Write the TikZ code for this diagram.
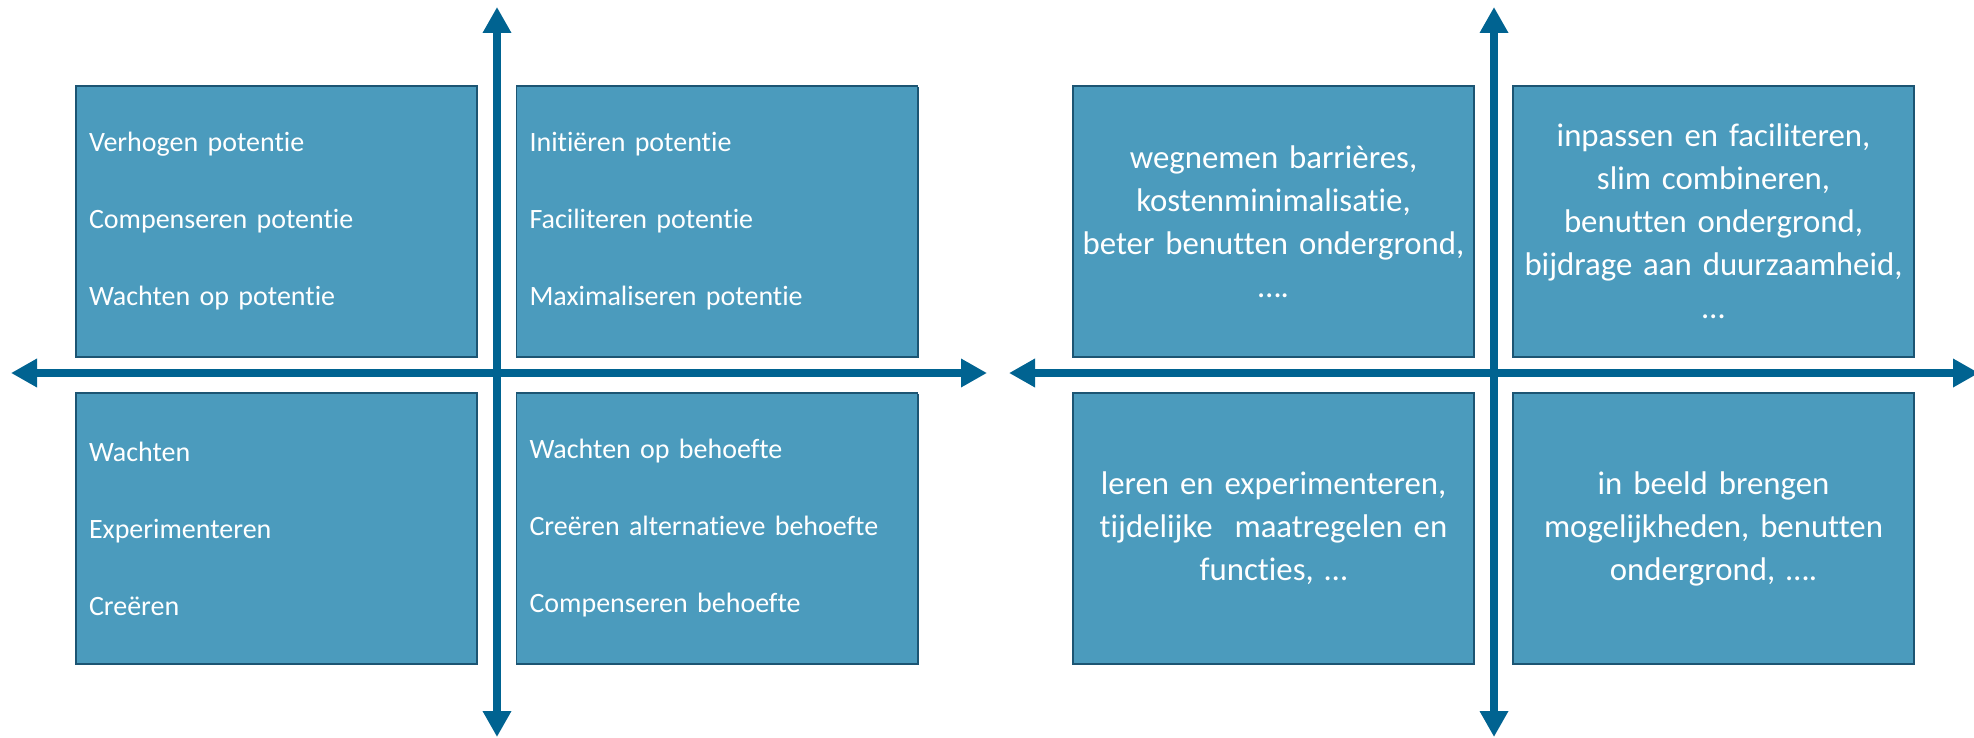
\documentclass[tikz,border=0pt]{standalone}
\usepackage{fontspec}
\setmainfont{Carlito}[Ligatures=NoCommon]
\usetikzlibrary{arrows.meta,shadows}
\definecolor{boxfill}{RGB}{75,155,189}
\definecolor{boxline}{RGB}{28,85,115}
\definecolor{axisblue}{RGB}{0,99,145}
\begin{document}
\begin{tikzpicture}[x=0.5pt,y=-0.5pt,
  qbox/.style={draw=boxline, line width=0.6pt, fill=boxfill, text=white,
    minimum width=200.5pt, minimum height=135.5pt,
    drop shadow={shadow xshift=0.7pt, shadow yshift=-0.7pt, fill=boxline, opacity=1}},
  listbox/.style={qbox, align=left, inner xsep=6.5pt, inner ysep=0pt, text width=187.5pt,
    font=\fontsize{14pt}{38.5pt}\selectfont},
  textbox/.style={qbox, align=center, inner xsep=2pt, inner ysep=0pt, text width=196.5pt,
    font=\fontsize{16.4pt}{21.5pt}\selectfont},
  axis/.style={draw=axisblue, line width=4pt,
    {Triangle[length=13pt,width=13.5pt]}-{Triangle[length=13pt,width=13.5pt]}}]
\useasboundingbox[fill=white] (0,0) rectangle (1974,738);

% left diagram
\node[listbox] (ltl) at (276.5,221.5) {Verhogen potentie\\Compenseren potentie\\Wachten op potentie};
\node[listbox] (ltr) at (717,221.5) {Initiëren potentie\\Faciliteren potentie\\Maximaliseren potentie};
\node[listbox] (lbl) at (276.5,528.5) {Wachten\\Experimenteren\\Creëren};
\node[listbox] (lbr) at (717,528.5) {Wachten op behoefte\\Creëren alternatieve behoefte\\Compenseren behoefte};

\coordinate (LT) at (497,7);
\coordinate (LB) at (497,737);
\coordinate (LL) at (11,373);
\coordinate (LR) at (987,373);
\draw[axis] (LT) -- (LB);
\draw[axis] (LL) -- (LR);

% right diagram
\node[textbox] (rtl) at (1273.5,221.5) {wegnemen barrières,\\kostenminimalisatie,\\beter benutten ondergrond,\\….};
\node[textbox] (rtr) at (1713.5,221.5) {inpassen en faciliteren,\\slim combineren,\\benutten ondergrond,\\bijdrage aan duurzaamheid,\\…};
\node[textbox] (rbl) at (1273.5,528.5) {leren en experimenteren,\\tijdelijke~ maatregelen en\\functies, …};
\node[textbox] (rbr) at (1713.5,528.5) {in beeld brengen\\mogelijkheden, benutten\\ondergrond, ….};

\coordinate (RT) at (1494,7);
\coordinate (RB) at (1494,737);
\coordinate (RL) at (1009,373);
\coordinate (RR) at (1979,373);
\draw[axis] (RT) -- (RB);
\draw[axis] (RL) -- (RR);
\end{tikzpicture}
\end{document}
